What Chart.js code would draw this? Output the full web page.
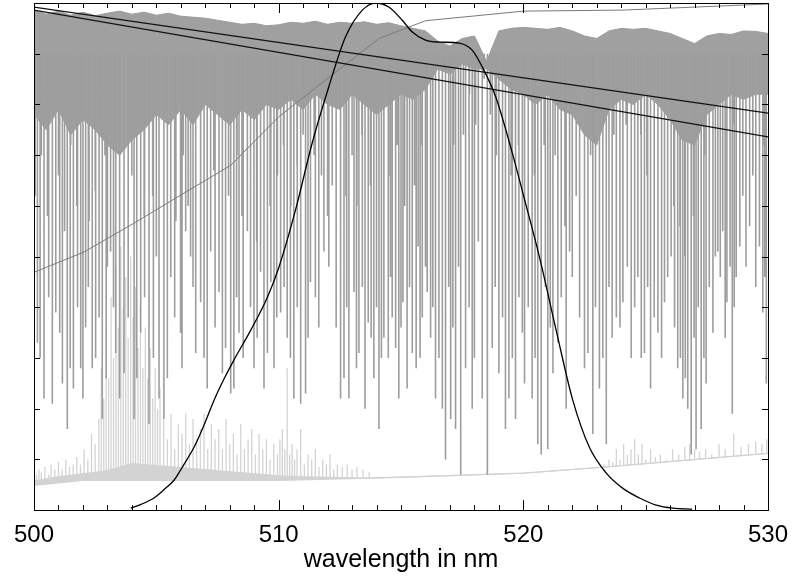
<!DOCTYPE html>
<html>
<head>
<meta charset="utf-8">
<script src="https://cdn.jsdelivr.net/npm/chart.js@4.4.1/dist/chart.umd.min.js"></script>
<style>
  html, body { margin: 0; padding: 0; background: #fff; }
</style>
</head>
<body>
<canvas id="spectre" width="792" height="578"></canvas>
<script>
// valeurs (intensite normalisee 0..1, longueur d'onde en nm)

// courbe du filtre (noire)
var filtreX = [503.95, 504.4, 504.9, 505.3, 505.72, 506.1, 506.54, 506.95, 507.36, 507.8, 508.17, 508.86, 509.54, 510.01,
  510.69, 511.37, 512.05, 512.73, 513.42, 513.96, 514.5, 515.05, 515.46, 516.0, 516.55, 517.37, 517.91, 518.32, 518.87,
  519.55, 520.02, 520.66, 521.34, 522.02, 522.7, 523.39, 524.07, 524.75, 525.43, 526.11, 526.9];
var filtreY = [0.004, 0.012, 0.024, 0.040, 0.059, 0.088, 0.124, 0.168, 0.217, 0.262, 0.296, 0.355, 0.420, 0.479,
  0.592, 0.724, 0.835, 0.933, 0.986, 1.0, 0.992, 0.966, 0.943, 0.927, 0.923, 0.921, 0.907, 0.874, 0.815,
  0.704, 0.618, 0.499, 0.355, 0.217, 0.124, 0.073, 0.043, 0.024, 0.010, 0.004, 0.002];

// deux droites noires
var droiteAX = [500, 530];
var droiteAY = [0.992, 0.783];
var droiteBX = [500, 530];
var droiteBY = [0.986, 0.736];

// courbe grise montante
var montanteX = [500, 502.04, 504.09, 506.13, 508.04, 510.01, 512.05, 514.1, 516.0, 520, 524.07, 530];
var montanteY = [0.469, 0.509, 0.566, 0.625, 0.680, 0.776, 0.853, 0.930, 0.965, 0.984, 0.986, 0.998];

// spectre d'absorption : bande dense (haut / bas tous les 0.5 nm)
var bandeX = [500, 500.5, 501, 501.5, 502, 502.5, 503, 503.5, 504, 504.5, 505, 505.5, 506, 506.5, 507, 507.5, 508, 508.5, 509, 509.5, 510,
  510.5, 511, 511.5, 512, 512.5, 513, 513.5, 514, 514.5, 515, 515.5, 516, 516.5, 517, 517.5, 518, 518.5, 519, 519.5, 520,
  520.5, 521, 521.5, 522, 522.5, 523, 523.5, 524, 524.5, 525, 525.5, 526, 526.5, 527, 527.5, 528, 528.5, 529, 529.5, 530];
var bandeHaut = [0.986, 0.978, 0.984, 0.976, 0.982, 0.975, 0.980, 0.984, 0.978, 0.982, 0.976, 0.980, 0.974, 0.972, 0.970, 0.966, 0.962, 0.958, 0.960, 0.955, 0.957,
  0.962, 0.960, 0.964, 0.958, 0.962, 0.960, 0.963, 0.958, 0.961, 0.955, 0.950, 0.945, 0.925, 0.915, 0.930, 0.935, 0.885, 0.945, 0.950, 0.952,
  0.950, 0.948, 0.952, 0.945, 0.935, 0.930, 0.945, 0.950, 0.948, 0.950, 0.945, 0.940, 0.930, 0.920, 0.935, 0.940, 0.938, 0.945, 0.944, 0.940];
var bandeBas = [0.78, 0.75, 0.79, 0.74, 0.77, 0.75, 0.72, 0.70, 0.73, 0.75, 0.78, 0.76, 0.79, 0.76, 0.80, 0.78, 0.76, 0.79, 0.77, 0.80, 0.79,
  0.81, 0.79, 0.82, 0.80, 0.79, 0.82, 0.80, 0.78, 0.80, 0.82, 0.81, 0.83, 0.87, 0.86, 0.88, 0.87, 0.87, 0.85, 0.83, 0.82,
  0.80, 0.82, 0.79, 0.78, 0.74, 0.72, 0.79, 0.81, 0.80, 0.82, 0.80, 0.77, 0.73, 0.72, 0.78, 0.80, 0.82, 0.81, 0.82, 0.82];

// raies profondes
var raiesX = [500.14, 500.41, 500.75, 500.89, 501.16, 501.36, 501.61, 501.91, 502.11, 502.38, 502.66, 502.79, 503.13, 503.34, 503.68,
  504.09, 504.36, 504.70, 505.11, 505.31, 505.59, 505.99, 506.20, 506.40, 506.61, 506.81, 507.08, 507.22, 507.56, 507.83, 508.04,
  508.17, 508.38, 508.72, 508.99, 509.26, 509.54, 509.81,
  510.08, 510.35, 510.62, 510.90, 511.10, 511.30, 511.64, 511.85, 512.19, 512.53, 512.67, 512.87, 513.08, 513.28, 513.53, 513.66,
  513.89, 514.10, 514.30, 514.48, 514.64, 514.78, 514.91, 515.08, 515.25, 515.46, 515.62, 515.70, 515.87, 516.07, 516.21, 516.41,
  516.69, 516.82, 517.03, 517.23, 517.44, 517.64, 517.91, 518.16, 518.32, 518.53, 518.73, 519.00, 519.27, 519.41, 519.68, 519.96,
  520.05, 520.36, 520.59, 520.73, 521.00, 521.21, 521.41, 521.75, 521.89, 522.16, 522.64, 522.84, 523.11, 523.39, 523.63, 523.80,
  524.07, 524.41, 524.68, 524.95, 525.20, 525.50, 525.77, 526.04, 526.31, 526.52, 526.72, 526.86, 527.06, 527.27, 527.47, 527.75,
  527.95, 528.15, 528.32, 528.54, 528.70, 528.97, 529.38, 529.79, 529.93];
var raiesFond = [0.33, 0.22, 0.21, 0.39, 0.25, 0.16, 0.24, 0.28, 0.36, 0.28, 0.38, 0.18, 0.51, 0.31, 0.27,
  0.18, 0.35, 0.17, 0.22, 0.18, 0.46, 0.35, 0.55, 0.50, 0.31, 0.41, 0.24, 0.51, 0.43, 0.32, 0.23,
  0.24, 0.35, 0.55, 0.28, 0.47, 0.31, 0.28,
  0.39, 0.34, 0.22, 0.21, 0.23, 0.45, 0.36, 0.51, 0.64, 0.22, 0.26, 0.22, 0.43, 0.31, 0.20, 0.37,
  0.26, 0.16, 0.34, 0.30, 0.38, 0.32, 0.22, 0.41, 0.24, 0.31, 0.28, 0.52, 0.38, 0.43, 0.34, 0.22,
  0.20, 0.10, 0.18, 0.16, 0.07, 0.28, 0.20, 0.53, 0.22, 0.07, 0.32, 0.27, 0.16, 0.22, 0.18, 0.35,
  0.25, 0.22, 0.13, 0.11, 0.12, 0.27, 0.33, 0.20, 0.51, 0.62, 0.31, 0.15, 0.24, 0.13, 0.34, 0.38,
  0.41, 0.30, 0.46, 0.31, 0.24, 0.35, 0.41, 0.50, 0.28, 0.22, 0.20, 0.11, 0.12, 0.16, 0.25, 0.35,
  0.51, 0.55, 0.41, 0.19, 0.46, 0.62, 0.66, 0.39, 0.25];

// autres raies assez profondes, entre les precedentes
var raies2X = [500.25, 500.6, 501.05, 501.48, 501.78, 502.0, 502.22, 502.52, 502.95, 503.25, 503.5, 503.85, 504.2, 504.52, 504.88,
  505.45, 505.75, 506.05, 506.5, 506.95, 507.4, 507.7, 508.28, 508.55, 508.85, 509.12, 509.4, 509.68, 509.92,
  510.22, 510.48, 510.76, 511.2, 511.5, 512.05, 512.35, 512.78, 513.18, 513.42, 513.78, 514.0, 514.2, 514.57, 515.0, 515.35,
  515.78, 516.0, 516.3, 516.55, 516.95, 517.12, 517.35, 517.78, 518.0, 518.85, 519.15, 519.55, 519.82,
  520.2, 520.48, 520.9, 521.1, 521.55, 522.0, 522.3, 522.5, 522.95, 523.25, 523.5, 523.95, 524.25, 524.55, 524.82, 525.08,
  525.35, 525.65, 525.9, 526.18, 526.42, 526.62, 526.98, 527.15, 527.38, 527.6, 527.85, 528.05, 528.25, 528.45, 528.62,
  528.85, 529.1, 529.25, 529.5, 529.65, 529.87];
var raies2Fond = [0.30, 0.42, 0.35, 0.28, 0.40, 0.22, 0.44, 0.30, 0.26, 0.40, 0.22, 0.38, 0.26, 0.42, 0.30,
  0.26, 0.38, 0.28, 0.44, 0.30, 0.36, 0.27, 0.42, 0.30, 0.40, 0.34, 0.24, 0.45, 0.38,
  0.44, 0.30, 0.40, 0.34, 0.42, 0.48, 0.36, 0.40, 0.28, 0.44, 0.34, 0.40, 0.30, 0.46, 0.36, 0.44,
  0.30, 0.48, 0.40, 0.30, 0.44, 0.36, 0.48, 0.40, 0.30, 0.44, 0.38, 0.30, 0.42,
  0.40, 0.30, 0.44, 0.36, 0.42, 0.46, 0.38, 0.28, 0.40, 0.30, 0.44, 0.36, 0.48, 0.40, 0.30, 0.44,
  0.38, 0.30, 0.46, 0.36, 0.30, 0.26, 0.34, 0.40, 0.30, 0.44, 0.50, 0.46, 0.34, 0.48, 0.40,
  0.52, 0.48, 0.56, 0.44, 0.52, 0.46];

// raies moyennes
var moyX = [500.05, 500.3, 500.55, 501.0, 501.25, 501.5, 501.75, 502.0, 502.25, 502.5, 502.9, 503.0, 503.5, 503.85, 504.0, 504.2,
  504.5, 504.85, 505.0, 505.45, 505.8, 506.1, 506.3, 506.5, 506.95, 507.35, 507.7, 507.95, 508.3, 508.5, 508.85, 509.1, 509.4,
  509.65, 509.95,
  510.2, 510.5, 510.75, 511.0, 511.2, 511.45, 511.75, 512.0, 512.35, 512.75, 513.0, 513.2, 513.4, 513.75, 514.0, 514.2, 514.55,
  514.85, 515.15, 515.35, 515.55, 515.8, 516.0, 516.3, 516.55, 516.95, 517.15, 517.35, 517.55, 517.8, 518.05, 518.4, 518.65,
  518.9, 519.15, 519.5, 519.8,
  520.2, 520.45, 520.85, 521.1, 521.3, 521.55, 521.7, 522.0, 522.3, 522.5, 522.75, 522.95, 523.25, 523.5, 523.7, 523.95, 524.2,
  524.55, 524.8, 525.05, 525.35, 525.65, 525.9, 526.15, 526.4, 526.6, 526.95, 527.15, 527.4, 527.6, 527.85, 528.05, 528.45,
  528.6, 528.85, 529.1, 529.25, 529.5, 529.65, 529.85];
var moyFond = [0.62, 0.70, 0.58, 0.66, 0.55, 0.72, 0.60, 0.68, 0.57, 0.63, 0.70, 0.48, 0.60, 0.54, 0.66, 0.45,
  0.58, 0.62, 0.50, 0.66, 0.57, 0.70, 0.60, 0.64, 0.58, 0.67, 0.55, 0.62, 0.70, 0.58, 0.64, 0.53, 0.68,
  0.60, 0.66,
  0.72, 0.60, 0.68, 0.74, 0.63, 0.70, 0.66, 0.58, 0.72, 0.62, 0.70, 0.60, 0.74, 0.64, 0.70, 0.58, 0.66,
  0.72, 0.60, 0.70, 0.64, 0.72, 0.62, 0.70, 0.78, 0.75, 0.72, 0.80, 0.74, 0.82, 0.76, 0.85, 0.78,
  0.70, 0.76, 0.66, 0.72,
  0.74, 0.66, 0.72, 0.62, 0.70, 0.60, 0.56, 0.68, 0.74, 0.64, 0.70, 0.58, 0.72, 0.66, 0.74, 0.70, 0.76,
  0.68, 0.74, 0.66, 0.72, 0.76, 0.68, 0.60, 0.56, 0.50, 0.58, 0.64, 0.70, 0.74, 0.68, 0.72, 0.70,
  0.76, 0.72, 0.78, 0.74, 0.80, 0.76, 0.72];

// spectre gris clair : ligne de base, frange basse et pics
var baseClaireX = [500, 502, 510, 515, 520, 523.3, 530];
var baseClaireY = [0.049, 0.059, 0.059, 0.065, 0.073, 0.085, 0.112];
var frangeX = [500, 501, 502, 503, 503.5, 504, 505, 506, 507, 508, 509, 510, 511, 512, 513, 513.5, 515, 520, 523.3, 530];
var frangeY = [0.058, 0.066, 0.072, 0.078, 0.085, 0.092, 0.088, 0.084, 0.080, 0.076, 0.072, 0.068, 0.066, 0.065, 0.064, 0.063,
  0.065, 0.073, 0.085, 0.112];
var picsX = [500.1, 500.2, 500.3, 500.45, 500.6, 500.7, 500.85, 501.0, 501.15, 501.3, 501.45, 501.6, 501.75, 501.9,
  502.05, 502.2, 502.35, 502.5, 502.65, 502.75, 502.85, 502.95, 503.05, 503.15, 503.25, 503.35, 503.45, 503.55, 503.65,
  503.75, 503.85, 503.95, 504.05, 504.15, 504.25, 504.35, 504.45, 504.55, 504.65, 504.75, 504.85, 504.95, 505.05, 505.15,
  505.3, 505.45, 505.6, 505.75, 505.9, 506.05, 506.2, 506.35, 506.5, 506.65, 506.8, 506.95, 507.1, 507.25, 507.4,
  507.55, 507.7, 507.85, 508.0, 508.15, 508.3, 508.45, 508.6, 508.75, 508.9, 509.05, 509.2, 509.35, 509.5, 509.65, 509.8, 509.95,
  510.05, 510.15, 510.25, 510.35, 510.45, 510.55, 510.65, 510.75, 510.9, 511.05, 511.2, 511.35, 511.5, 511.65, 511.8, 511.95,
  512.1, 512.25, 512.4, 512.6, 512.8, 513.0, 513.2, 513.45, 513.7,
  523.3, 523.5, 523.65, 523.8, 523.95, 524.1, 524.25, 524.4, 524.55, 524.7, 524.85, 525.0, 525.2, 525.4, 525.6, 525.85,
  526.1, 526.35, 526.6, 526.8, 527.0, 527.2, 527.45, 527.7, 528.0, 528.25, 528.6, 528.9, 529.2, 529.5, 529.75, 529.95];
var picsY = [0.07, 0.08, 0.075, 0.085, 0.07, 0.09, 0.08, 0.095, 0.08, 0.10, 0.085, 0.09, 0.105, 0.09,
  0.12, 0.10, 0.15, 0.13, 0.18, 0.28, 0.22, 0.35, 0.26, 0.42, 0.30, 0.48, 0.36, 0.52, 0.40,
  0.46, 0.34, 0.50, 0.38, 0.44, 0.32, 0.40, 0.28, 0.36, 0.26, 0.32, 0.22, 0.28, 0.20, 0.24,
  0.18, 0.14, 0.19, 0.12, 0.17, 0.15, 0.19, 0.13, 0.18, 0.14, 0.16, 0.19, 0.12, 0.17, 0.14,
  0.16, 0.12, 0.18, 0.13, 0.15, 0.11, 0.17, 0.12, 0.14, 0.16, 0.11, 0.15, 0.12, 0.14, 0.10, 0.13, 0.11,
  0.14, 0.16, 0.12, 0.28, 0.11, 0.13, 0.10, 0.12, 0.16, 0.09, 0.11, 0.10, 0.12, 0.085, 0.10, 0.09,
  0.11, 0.08, 0.09, 0.085, 0.09, 0.08, 0.085, 0.08, 0.075,
  0.09, 0.10, 0.095, 0.12, 0.10, 0.13, 0.11, 0.12, 0.14, 0.11, 0.13, 0.10, 0.12, 0.105, 0.11, 0.10,
  0.12, 0.11, 0.125, 0.13, 0.12, 0.115, 0.12, 0.11, 0.13, 0.12, 0.15, 0.125, 0.13, 0.135, 0.13, 0.14];

var HAUT_RAIE = 0.9;   // les raies partent de l'interieur de la bande

function points(xs, ys) {
  return xs.map(function(x, i) { return { x: x, y: ys[i] }; });
}

// niveau de la ligne de base claire a une longueur d'onde donnee
function baseClaire(l) {
  for (var i = 1; i < baseClaireX.length; i++) {
    if (l <= baseClaireX[i]) {
      var t = (l - baseClaireX[i - 1]) / (baseClaireX[i] - baseClaireX[i - 1]);
      return baseClaireY[i - 1] + t * (baseClaireY[i] - baseClaireY[i - 1]);
    }
  }
  return baseClaireY[baseClaireY.length - 1];
}

// segments verticaux separes par des trous (null)
function batons(xs, debut, fin) {
  var pts = [];
  for (var i = 0; i < xs.length; i++) {
    pts.push({ x: xs[i], y: debut(i) });
    pts.push({ x: xs[i], y: fin(i) });
    pts.push({ x: xs[i], y: null });
  }
  return pts;
}

function haut() { return HAUT_RAIE; }
var raiesData = batons(raiesX, haut, function(i) { return raiesFond[i]; })
  .concat(batons(raies2X, haut, function(i) { return raies2Fond[i]; }))
  .concat(batons(moyX, haut, function(i) { return moyFond[i]; }));
var picsData = batons(picsX, function(i) { return baseClaire(picsX[i]); }, function(i) { return picsY[i]; });

var GRIS = '#9d9d9d';
var CLAIR = '#d3d3d3';

/* graduations vers l'interieur + cadre */
var cadre = {
  id: 'cadre',
  afterDatasetsDraw: function(chart) {
    var ctx = chart.ctx, a = chart.chartArea;
    var sx = chart.scales.x, sy = chart.scales.y;
    ctx.save();
    ctx.strokeStyle = '#000';
    ctx.lineWidth = 1;
    ctx.beginPath();
    for (var l = 500; l <= 530; l++) {
      var px = Math.round(sx.getPixelForValue(l)) + 0.5;
      var len = (l % 10 === 0) ? 10 : 5;
      ctx.moveTo(px, a.bottom); ctx.lineTo(px, a.bottom - len);
      ctx.moveTo(px, a.top); ctx.lineTo(px, a.top + len);
    }
    for (var k = 1; k < 10; k++) {
      var py = Math.round(sy.getPixelForValue(k / 10)) + 0.5;
      ctx.moveTo(a.left, py); ctx.lineTo(a.left + 6, py);
      ctx.moveTo(a.right, py); ctx.lineTo(a.right - 6, py);
    }
    ctx.stroke();
    ctx.strokeRect(Math.round(a.left) + 0.5, Math.round(a.top) + 0.5, Math.round(a.right - a.left), Math.round(a.bottom - a.top));
    ctx.restore();
  }
};

var ctx = document.getElementById('spectre').getContext('2d');
var chart = new Chart(ctx, {
  type: 'line',
  data: {
    datasets: [
      { label: 'filtre', data: points(filtreX, filtreY), borderColor: '#000', borderWidth: 1.3, cubicInterpolationMode: 'monotone' },
      { label: 'droite A', data: points(droiteAX, droiteAY), borderColor: '#111', borderWidth: 1.2 },
      { label: 'droite B', data: points(droiteBX, droiteBY), borderColor: '#111', borderWidth: 1.2 },
      { label: 'montante', data: points(montanteX, montanteY), borderColor: '#7a7a7a', borderWidth: 1 },
      { label: 'raies', data: raiesData, borderColor: GRIS, borderWidth: 1.6 },
      { label: 'bande haut', data: points(bandeX, bandeHaut), borderColor: GRIS, borderWidth: 1, backgroundColor: '#a0a0a0', fill: '+1' },
      { label: 'bande bas', data: points(bandeX, bandeBas), borderColor: GRIS, borderWidth: 1 },
      { label: 'pics', data: picsData, borderColor: CLAIR, borderWidth: 1.3 },
      { label: 'frange claire', data: points(frangeX, frangeY), borderColor: CLAIR, borderWidth: 1, backgroundColor: CLAIR, fill: '+1' },
      { label: 'base claire', data: points(baseClaireX, baseClaireY), borderColor: CLAIR, borderWidth: 1.4 }
    ]
  },
  options: {
    responsive: false,
    animation: false,
    events: [],
    layout: { padding: { left: 34, right: 24, top: 3, bottom: 0 } },
    elements: { point: { radius: 0 }, line: { tension: 0 } },
    plugins: { legend: { display: false }, tooltip: { enabled: false } },
    scales: {
      x: {
        type: 'linear', min: 500, max: 530,
        grid: { display: false, drawTicks: false },
        border: { display: false },
        ticks: { stepSize: 10, color: '#000', padding: 11, font: { family: 'Liberation Sans', size: 24 } },
        title: { display: true, text: 'wavelength in nm', color: '#000', padding: { top: -16, bottom: 3 },
          font: { family: 'Liberation Sans', size: 25 } },
        afterFit: function(scale) { scale.paddingLeft = 0; scale.paddingRight = 0; }
      },
      y: { display: false, min: 0, max: 1 }
    }
  },
  plugins: [cadre]
});
</script>
</body>
</html>
